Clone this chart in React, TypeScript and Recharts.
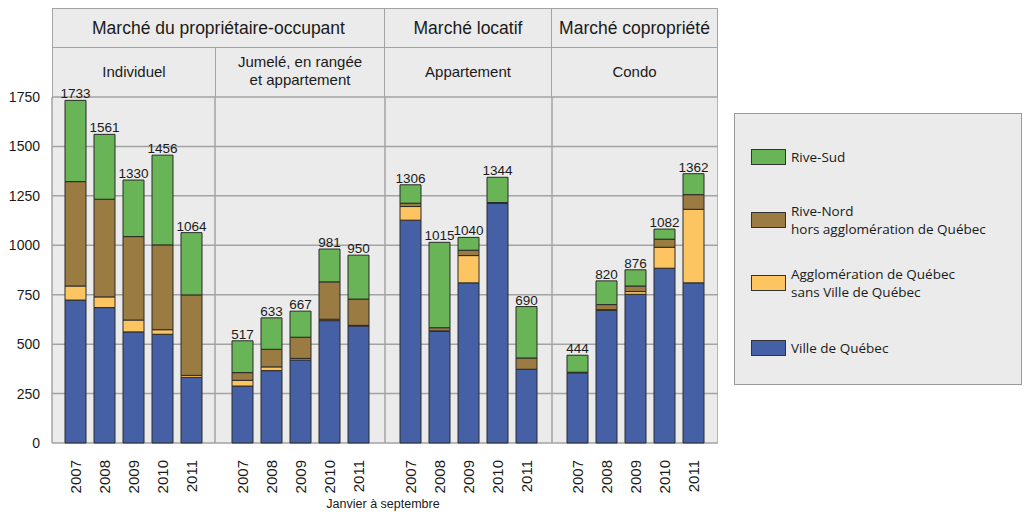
import React from "react";
import {
  BarChart,
  Bar,
  XAxis,
  YAxis,
  CartesianGrid,
  LabelList,
} from "recharts";

const years = ["2007", "2008", "2009", "2010", "2011"];
const yTicks = [0, 250, 500, 750, 1000, 1250, 1500, 1750];

// Marché du propriétaire-occupant — Individuel
const villeIndividuel = [723, 685, 562, 550, 332];
const agglomIndividuel = [71, 54, 60, 23, 10];
const nordIndividuel = [528, 494, 422, 429, 407];
const sudIndividuel = [411, 328, 286, 454, 315];
const totalIndividuel = [1733, 1561, 1330, 1456, 1064];

// Jumelé, en rangée et appartement
const villeJumele = [288, 366, 420, 619, 592];
const agglomJumele = [29, 19, 8, 7, 3];
const nordJumele = [39, 89, 107, 189, 133];
const sudJumele = [161, 159, 132, 166, 222];
const totalJumele = [517, 633, 667, 981, 950];

// Marché locatif — Appartement
const villeLocatif = [1127, 565, 810, 1212, 373];
const agglomLocatif = [69, 2, 138, 0, 0];
const nordLocatif = [17, 16, 27, 4, 57];
const sudLocatif = [93, 432, 65, 128, 260];
const totalLocatif = [1306, 1015, 1040, 1344, 690];

// Marché copropriété — Condo
const villeCondo = [355, 671, 752, 884, 810];
const agglomCondo = [0, 3, 14, 106, 372];
const nordCondo = [3, 26, 28, 41, 74];
const sudCondo = [86, 120, 82, 51, 106];
const totalCondo = [444, 820, 876, 1082, 1362];

const SERIES = [
  { key: "ville", name: "Ville de Québec", color: "#4560a5" },
  { key: "agglom", name: "Agglomération de Québec\nsans Ville de Québec", color: "#fdc462" },
  { key: "nord", name: "Rive-Nord\nhors agglomération de Québec", color: "#9a7b41" },
  { key: "sud", name: "Rive-Sud", color: "#69b457" },
];

const build = (ville: number[], agglom: number[], nord: number[], sud: number[], total: number[]) =>
  years.map((year, i) => ({
    year,
    ville: ville[i],
    agglom: agglom[i],
    nord: nord[i],
    sud: sud[i],
    total: total[i],
  }));

const PANELS = [
  {
    left: 52,
    width: 163,
    pad: { left: 9, right: 9 },
    data: build(villeIndividuel, agglomIndividuel, nordIndividuel, sudIndividuel, totalIndividuel),
  },
  {
    left: 215,
    width: 170,
    pad: { left: 13, right: 12 },
    data: build(villeJumele, agglomJumele, nordJumele, sudJumele, totalJumele),
  },
  {
    left: 385,
    width: 167,
    pad: { left: 11, right: 11 },
    data: build(villeLocatif, agglomLocatif, nordLocatif, sudLocatif, totalLocatif),
  },
  {
    left: 552,
    width: 166,
    pad: { left: 11, right: 10 },
    data: build(villeCondo, agglomCondo, nordCondo, sudCondo, totalCondo),
  },
];

const FONT = "'Liberation Sans', Arial, sans-serif";
const GRID = "#a3a3a3";
const BG = "#ebebeb";
const TOP = 97;
const BOTTOM = 443;
const H = 500;

const YearTick = ({ x, y, payload }: any) => (
  <g transform={`translate(${x},${y + 9})`}>
    <text
      transform="rotate(-90)"
      textAnchor="end"
      dy="0.36em"
      fontSize={15}
      fill="#1a1a1a"
      fontFamily={FONT}
    >
      {payload.value}
    </text>
  </g>
);

const headerCell = (left: number, top: number, width: number, height: number): React.CSSProperties => ({
  position: "absolute",
  left,
  top,
  width,
  height,
  boxSizing: "border-box",
  border: `1px solid ${GRID}`,
  background: BG,
  display: "flex",
  alignItems: "center",
  justifyContent: "center",
  textAlign: "center",
  color: "#1a1a1a",
  fontFamily: FONT,
});

export default function App() {
  const legendItems = [...SERIES].reverse();
  const legendRows = [157, 220, 283, 348];

  return (
    <div style={{ position: "absolute", left: 0, top: 0, width: 1026, height: 512, background: "#fff" }}>
      {/* header rows */}
      <div style={{ ...headerCell(52, 8, 333, 40), fontSize: 17.5 }}>Marché du propriétaire-occupant</div>
      <div style={{ ...headerCell(384, 8, 168, 40), fontSize: 17.5 }}>Marché locatif</div>
      <div style={{ ...headerCell(551, 8, 167, 40), fontSize: 17.5 }}>Marché copropriété</div>
      <div style={{ ...headerCell(52, 47, 164, 51), fontSize: 15, paddingBottom: 3 }}>Individuel</div>
      <div style={{ ...headerCell(215, 47, 170, 51), fontSize: 15, lineHeight: "18px", paddingBottom: 3 }}>
        Jumelé, en rangée
        <br />
        et appartement
      </div>
      <div style={{ ...headerCell(384, 47, 168, 51), fontSize: 15, paddingBottom: 3 }}>Appartement</div>
      <div style={{ ...headerCell(551, 47, 167, 51), fontSize: 15, paddingBottom: 3 }}>Condo</div>

      {PANELS.map((p, idx) => {
        const first = idx === 0;
        return (
          <div
            key={idx}
            style={{ position: "absolute", left: first ? 0 : p.left, top: 0 }}
          >
            <BarChart
              width={first ? p.left + p.width : p.width}
              height={H}
              data={p.data}
              margin={{ top: TOP, right: 0, bottom: 0, left: 0 }}
              barSize={21}
            >
              <CartesianGrid
                fill={BG}
                stroke={GRID}
                strokeWidth={1.5}
                verticalCoordinatesGenerator={({ offset }: any) => [
                  offset.left,
                  offset.left + offset.width,
                ]}
              />
              <XAxis
                dataKey="year"
                axisLine={false}
                tickLine={false}
                interval={0}
                padding={p.pad}
                height={H - BOTTOM}
                tick={<YearTick />}
              />
              <YAxis
                hide={!first}
                width={first ? p.left : 0}
                domain={[0, 1750]}
                ticks={yTicks}
                axisLine={false}
                tickLine={false}
                tickSize={0}
                tickMargin={12}
                tick={{ fontSize: 14, fill: "#1a1a1a", fontFamily: FONT }}
              />
              {SERIES.map((s) => (
                <Bar
                  key={s.key}
                  dataKey={s.key}
                  stackId="a"
                  fill={s.color}
                  stroke="#2a2a2a"
                  strokeWidth={1}
                  isAnimationActive={false}
                >
                  {s.key === "sud" && (
                    <LabelList
                      dataKey="total"
                      position="top"
                      offset={2}
                      fontSize={13.5}
                      fill="#1a1a1a"
                      fontFamily={FONT}
                    />
                  )}
                </Bar>
              ))}
            </BarChart>
          </div>
        );
      })}

      <div
        style={{
          position: "absolute",
          left: 283,
          width: 200,
          top: 497,
          textAlign: "center",
          fontSize: 12.5,
          fontFamily: FONT,
          color: "#1a1a1a",
        }}
      >
        Janvier à septembre
      </div>

      {/* legend */}
      <div
        style={{
          position: "absolute",
          left: 734,
          top: 113,
          width: 288,
          height: 272,
          boxSizing: "border-box",
          border: "1px solid #9a9a9a",
          background: BG,
        }}
      />
      {legendItems.map((s, i) => (
        <div
          key={s.key}
          style={{
            position: "absolute",
            left: 751,
            top: legendRows[i] - 20,
            height: 40,
            display: "flex",
            alignItems: "center",
            fontFamily: "'Open Sans', sans-serif",
            fontSize: 13.5,
            lineHeight: "18px",
            color: "#1a1a1a",
          }}
        >
          <div
            style={{
              width: 35,
              height: 16,
              boxSizing: "border-box",
              border: "1px solid #333",
              background: s.color,
              marginRight: 5,
              flexShrink: 0,
            }}
          />
          <div style={{ whiteSpace: "pre" }}>{s.name}</div>
        </div>
      ))}
    </div>
  );
}
